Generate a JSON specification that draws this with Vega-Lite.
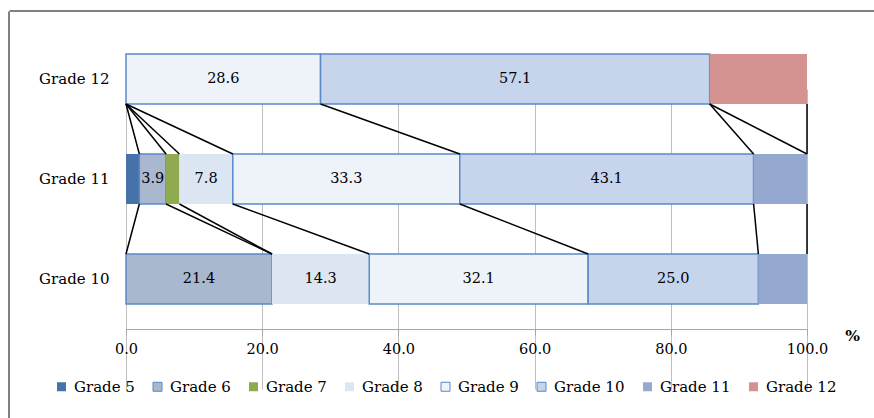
{
  "$schema": "https://vega.github.io/schema/vega-lite/v6.json",
  "width": 874,
  "height": 418,
  "autosize": "none",
  "padding": 0,
  "background": "white",
  "config": {
    "view": {"stroke": null},
    "font": "DejaVu Serif"
  },
  "datasets": {
    "bars": [
      {"row": "Grade 12", "grade": "Grade 9", "gid": 9, "value": 28.57},
      {"row": "Grade 12", "grade": "Grade 10", "gid": 10, "value": 57.14},
      {"row": "Grade 12", "grade": "Grade 12", "gid": 12, "value": 14.29},
      {"row": "Grade 11", "grade": "Grade 5", "gid": 5, "value": 1.96},
      {"row": "Grade 11", "grade": "Grade 6", "gid": 6, "value": 3.92},
      {"row": "Grade 11", "grade": "Grade 7", "gid": 7, "value": 1.96},
      {"row": "Grade 11", "grade": "Grade 8", "gid": 8, "value": 7.84},
      {"row": "Grade 11", "grade": "Grade 9", "gid": 9, "value": 33.33},
      {"row": "Grade 11", "grade": "Grade 10", "gid": 10, "value": 43.14},
      {"row": "Grade 11", "grade": "Grade 11", "gid": 11, "value": 7.84},
      {"row": "Grade 10", "grade": "Grade 6", "gid": 6, "value": 21.43},
      {"row": "Grade 10", "grade": "Grade 8", "gid": 8, "value": 14.29},
      {"row": "Grade 10", "grade": "Grade 9", "gid": 9, "value": 32.14},
      {"row": "Grade 10", "grade": "Grade 10", "gid": 10, "value": 25.0},
      {"row": "Grade 10", "grade": "Grade 11", "gid": 11, "value": 7.14}
    ],
    "links": [
      {"from": "Grade 12", "to": "Grade 11", "grade": "Grade 5", "xFrom": 0, "xTo": 1.96},
      {"from": "Grade 12", "to": "Grade 11", "grade": "Grade 6", "xFrom": 0, "xTo": 5.88},
      {"from": "Grade 12", "to": "Grade 11", "grade": "Grade 7", "xFrom": 0, "xTo": 7.84},
      {"from": "Grade 12", "to": "Grade 11", "grade": "Grade 8", "xFrom": 0, "xTo": 15.69},
      {"from": "Grade 12", "to": "Grade 11", "grade": "Grade 9", "xFrom": 28.57, "xTo": 49.02},
      {"from": "Grade 12", "to": "Grade 11", "grade": "Grade 10", "xFrom": 85.71, "xTo": 92.16},
      {"from": "Grade 12", "to": "Grade 11", "grade": "Grade 11", "xFrom": 85.71, "xTo": 100},
      {"from": "Grade 12", "to": "Grade 11", "grade": "Grade 12", "xFrom": 100, "xTo": 100},
      {"from": "Grade 11", "to": "Grade 10", "grade": "Grade 5", "xFrom": 1.96, "xTo": 0},
      {"from": "Grade 11", "to": "Grade 10", "grade": "Grade 6", "xFrom": 5.88, "xTo": 21.43},
      {"from": "Grade 11", "to": "Grade 10", "grade": "Grade 7", "xFrom": 7.84, "xTo": 21.43},
      {"from": "Grade 11", "to": "Grade 10", "grade": "Grade 8", "xFrom": 15.69, "xTo": 35.71},
      {"from": "Grade 11", "to": "Grade 10", "grade": "Grade 9", "xFrom": 49.02, "xTo": 67.86},
      {"from": "Grade 11", "to": "Grade 10", "grade": "Grade 10", "xFrom": 92.16, "xTo": 92.86},
      {"from": "Grade 11", "to": "Grade 10", "grade": "Grade 11", "xFrom": 100, "xTo": 100}
    ]
  },
  "layer": [
    {
      "layer": [
        {
          "data": {"name": "bars"},
          "transform": [
            {"stack": "value", "groupby": ["row"], "sort": [{"field": "gid", "order": "ascending"}], "as": ["x0", "x1"]}
          ],
          "mark": {"type": "bar", "strokeWidth": 1.5},
          "encoding": {
            "x": {
              "field": "x0", "type": "quantitative",
              "scale": {"domain": [0, 100], "range": [126, 807], "nice": false, "zero": false},
              "axis": {
                "orient": "bottom", "offset": -89,
                "values": [0, 20, 40, 60, 80, 100], "format": ".1f",
                "grid": true, "gridColor": "#bfbfbf", "gridWidth": 1,
                "domainColor": "#a6a6a6", "domainWidth": 1,
                "tickColor": "#a6a6a6", "tickSize": 6,
                "labelFont": "DejaVu Serif",
                "labelFontSize": 14.5, "labelColor": "#000000", "labelPadding": 7, "labelFlush": false,
                "title": "%", "titleX": 852, "titleY": 6, "titleFontWeight": "bold", "titleFontSize": 15.5,
                "titleFont": "DejaVu Serif",
                "titleColor": "#000000", "titleBaseline": "middle", "titleAlign": "center", "titleAngle": 0
              }
            },
            "x2": {"field": "x1"},
            "y": {
              "field": "row", "type": "nominal",
              "scale": {"domain": ["Grade 12", "Grade 11", "Grade 10"], "range": [29, 329], "paddingInner": 0.5, "paddingOuter": 0.25},
              "axis": {
                "orient": "left", "offset": -126, "domain": false, "ticks": false, "tickSize": 0,
                "labelFont": "DejaVu Serif",
                "labelPadding": 17, "labelFontSize": 15, "labelColor": "#000000", "title": null, "grid": false
              }
            },
            "fill": {
              "field": "grade", "type": "nominal",
              "scale": {
                "domain": ["Grade 5", "Grade 6", "Grade 7", "Grade 8", "Grade 9", "Grade 10", "Grade 11", "Grade 12"],
                "range": ["#4672a9", "#a9b7cf", "#8faa4f", "#dce6f2", "#eef2f9", "#c6d4ec", "#95a8d0", "#d49291"]
              },
              "legend": {
                "orient": "none", "legendX": 54, "legendY": 379, "direction": "horizontal", "title": null,
                "symbolType": "square", "symbolSize": 81, "symbolStrokeWidth": 1,
                "labelFont": "DejaVu Serif",
                "labelFontSize": 15, "labelColor": "#000000", "columnPadding": 15, "labelOffset": 5, "padding": 0
              }
            },
            "stroke": {
              "field": "grade", "type": "nominal",
              "scale": {
                "domain": ["Grade 5", "Grade 6", "Grade 7", "Grade 8", "Grade 9", "Grade 10", "Grade 11", "Grade 12"],
                "range": ["transparent", "#5a89c8", "transparent", "transparent", "#5a89c8", "#5a89c8", "transparent", "transparent"]
              },
              "legend": {
                "orient": "none", "legendX": 54, "legendY": 379, "direction": "horizontal", "title": null,
                "symbolType": "square", "symbolSize": 81, "symbolStrokeWidth": 1,
                "labelFont": "DejaVu Serif",
                "labelFontSize": 15, "labelColor": "#000000", "columnPadding": 15, "labelOffset": 5, "padding": 0
              }
            },
            "order": {"field": "gid"}
          }
        },
        {
          "data": {"name": "bars"},
          "transform": [
            {"stack": "value", "groupby": ["row"], "sort": [{"field": "gid", "order": "ascending"}], "as": ["x0", "x1"]},
            {"filter": "datum.gid >= 6 && datum.gid <= 10 && datum.gid != 7"},
            {"calculate": "(datum.x0 + datum.x1) / 2", "as": "mid"}
          ],
          "mark": {"type": "text", "font": "DejaVu Serif", "fontSize": 14.5, "color": "#000000", "baseline": "middle", "align": "center"},
          "encoding": {
            "x": {"field": "mid", "type": "quantitative"},
            "y": {"field": "row", "type": "nominal"},
            "text": {"field": "value", "type": "quantitative", "format": ".1f"}
          }
        },
        {
          "data": {"name": "links"},
          "mark": {"type": "rule", "color": "#000000", "strokeWidth": 1.5},
          "encoding": {
            "x": {"field": "xFrom", "type": "quantitative"},
            "x2": {"field": "xTo"},
            "y": {"field": "from", "type": "nominal", "bandPosition": 1},
            "y2": {"field": "to", "bandPosition": 0}
          }
        }
      ]
    },
    {
      "data": {"values": [{}]},
      "mark": {"type": "point", "opacity": 0},
      "encoding": {
        "x": {
          "datum": 0, "type": "quantitative",
          "scale": {"domain": [0, 1], "range": [9, 874]},
          "axis": {"orient": "top", "offset": -10.5, "domainColor": "#808080", "domainWidth": 2, "labels": false, "ticks": false, "grid": false, "title": null}
        },
        "y": {
          "datum": 0, "type": "quantitative",
          "scale": {"domain": [0, 1], "range": [418, 11]},
          "axis": {"orient": "left", "offset": -8.5, "domainColor": "#808080", "domainWidth": 2, "labels": false, "ticks": false, "grid": false, "title": null}
        }
      }
    }
  ],
  "resolve": {
    "scale": {"x": "independent", "y": "independent"},
    "axis": {"x": "independent", "y": "independent"}
  }
}
